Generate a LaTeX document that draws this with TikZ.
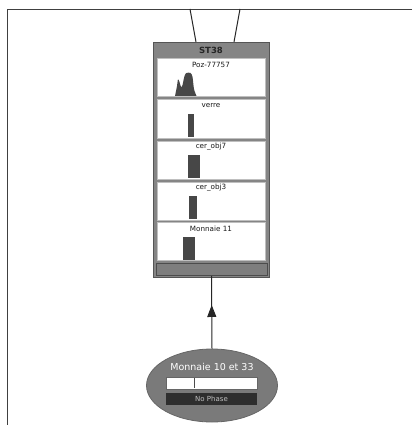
\documentclass[tikz,border=0pt]{standalone}
\usepackage{fontspec}
\setmainfont{DejaVu Sans}
\usetikzlibrary{arrows.meta,decorations.markings,shapes.geometric}
\definecolor{boxgray}{HTML}{858585}
\definecolor{edgegray}{HTML}{555555}
\definecolor{bardark}{HTML}{474747}
\definecolor{phasebar}{HTML}{2E2E2E}
\tikzset{
  panel/.style={draw=black!25, fill=white, line width=0.8pt, minimum width=108pt, minimum height=38pt, inner sep=0pt, anchor=north west},
  plabel/.style={font=\fontsize{7.2}{8}\selectfont, text=black!90, inner sep=0pt},
  histbar/.style={fill=bardark, draw=none},
  frameline/.style={draw=black!75, line width=0.8pt},
  conn/.style={draw=black!85, line width=1pt},
}
\begin{document}
\begin{tikzpicture}[x=1pt,y=-1pt]
\useasboundingbox (0,0) rectangle (412,425);
\fill[white] (0,0) rectangle (412,425);
% frame
\coordinate (fr1) at (412,9);
\coordinate (fr0) at (7,9);
\coordinate (fr2) at (7,425);
\draw[frameline] (fr1) -- (fr0) -- (fr2);
% main box
\node[draw=edgegray, fill=boxgray, line width=0.8pt, minimum width=116pt, minimum height=235pt, inner sep=0pt] (st) at (211,159.5) {};
\node[font=\fontsize{8.5}{9}\selectfont\bfseries, text=black!85, inner sep=0pt] (title) at (211,50) {ST38};
% panels
\node[panel] (p1) at (157,58) {};
\node[panel] (p2) at (157,99.5) {};
\node[panel] (p3) at (157,140.5) {};
\node[panel] (p4) at (157,181.5) {};
\node[panel] (p5) at (157,222) {};
\node[plabel] (l1) at (211,65) {Poz-77757};
\node[plabel] (l2) at (211,106) {verre};
\node[plabel] (l3) at (211,147) {cer\_obj7};
\node[plabel] (l4) at (211,188) {cer\_obj3};
\node[plabel] (l5) at (211,229) {Monnaie 11};
% histograms
\fill[bardark] plot[smooth, tension=0.5] coordinates {(175,96) (177,86) (178,79.5) (179.5,82) (181,87) (182.5,85) (184.5,76) (186.5,73) (190.5,73) (192.5,77) (194,89) (196.5,96)} -- cycle;
\fill[histbar] (188,114) rectangle (194,136.5);
\fill[histbar] (188,155) rectangle (200,177.5);
\fill[histbar] (189,196) rectangle (197,218.5);
\fill[histbar] (183,237) rectangle (195,259.5);
% bottom bar
\node[draw=black!70, fill=boxgray!95!black, line width=0.8pt, minimum width=111pt, minimum height=12pt, inner sep=0pt] (foot) at (211.5,269.5) {};
% top connectors
\coordinate (t1) at (190,9);
\coordinate (t2) at (240,9);
\draw[conn] (t1) -- (196,42);
\draw[conn] (t2) -- (234,42);
% ellipse node
\node[ellipse, draw=black!60, fill=black!52, line width=0.8pt, minimum width=131pt, minimum height=73pt, inner sep=0pt] (m) at (212,385.5) {};
\node[font=\fontsize{9.5}{10}\selectfont, text=white, inner sep=0pt] (mt) at (212,367) {Monnaie 10 et 33};
\node[draw=black!60, fill=white, minimum width=91pt, minimum height=12pt, inner sep=0pt] (wb) at (211.5,383) {};
\draw[black!70, line width=0.6pt] (194,378) -- (194,388);
\node[fill=phasebar, minimum width=91pt, minimum height=12pt, inner sep=0pt, text=black!25, font=\fontsize{7}{8}\selectfont] (np) at (211.5,399) {No Phase};
% arrow
\draw[conn, postaction={decorate}, decoration={markings, mark=at position 0.6 with {\arrow{Triangle[length=12pt,width=9pt]}}}] (m.north) -- (foot.south);
\end{tikzpicture}
\end{document}
